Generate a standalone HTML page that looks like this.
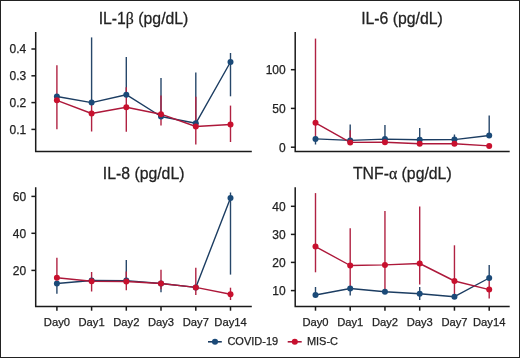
<!DOCTYPE html>
<html><head><meta charset="utf-8"><style>
html,body{margin:0;padding:0;background:#fff;}
body{width:520px;height:358px;overflow:hidden;}
svg{display:block;will-change:transform;font-family:"Liberation Sans", sans-serif;}
text{stroke:#222;stroke-width:0.25px;}
.g{font-family:"Liberation Serif",serif;}
</style></head><body>
<svg width="520" height="358" viewBox="0 0 520 358" fill="#222">
<rect x="0.5" y="0.5" width="519" height="357" fill="#fff" stroke="#222" stroke-width="1"/>
<g><text transform="translate(143.5,23.8) scale(1.0,1.08)" text-anchor="middle" font-size="15.8" class="t">IL-1<tspan class="g">β</tspan> (pg/dL)</text>
<path d="M35.7 32.1V151.5H251.8" fill="none" stroke="#1a1a1a" stroke-width="1.5"/>
<path d="M31.400000000000002 49H35.7" stroke="#1a1a1a" stroke-width="1.5"/>
<text x="26.200000000000003" y="53.4" text-anchor="end" font-size="12">0.4</text>
<path d="M31.400000000000002 75.8H35.7" stroke="#1a1a1a" stroke-width="1.5"/>
<text x="26.200000000000003" y="80.2" text-anchor="end" font-size="12">0.3</text>
<path d="M31.400000000000002 102.6H35.7" stroke="#1a1a1a" stroke-width="1.5"/>
<text x="26.200000000000003" y="107.0" text-anchor="end" font-size="12">0.2</text>
<path d="M31.400000000000002 129.4H35.7" stroke="#1a1a1a" stroke-width="1.5"/>
<text x="26.200000000000003" y="133.8" text-anchor="end" font-size="12">0.1</text>
<path d="M91.6 37.4V102.6" stroke="#27476a" stroke-width="1.4"/>
<path d="M126.3 57.0V94.7" stroke="#27476a" stroke-width="1.4"/>
<path d="M161.0 78.1V116.5" stroke="#27476a" stroke-width="1.4"/>
<path d="M195.8 72.6V123.3" stroke="#27476a" stroke-width="1.4"/>
<path d="M230.5 53.0V96.3" stroke="#27476a" stroke-width="1.4"/>
<path d="M56.9 65.2V129.2" stroke="#b02242" stroke-width="1.4"/>
<path d="M91.6 101.0V131.5" stroke="#b02242" stroke-width="1.4"/>
<path d="M126.3 87.3V131.7" stroke="#b02242" stroke-width="1.4"/>
<path d="M161.0 95.4V125.4" stroke="#b02242" stroke-width="1.4"/>
<path d="M195.8 96.7V144.4" stroke="#b02242" stroke-width="1.4"/>
<path d="M230.5 105.6V142.0" stroke="#b02242" stroke-width="1.4"/>
<polyline points="56.9,96.5 91.6,102.6 126.3,94.7 161.0,116.5 195.8,123.3 230.5,62.0" fill="none" stroke="#1c3d62" stroke-width="1.4" stroke-linejoin="round"/>
<polyline points="56.9,100.3 91.6,113.5 126.3,107.3 161.0,114.2 195.8,126.5 230.5,124.5" fill="none" stroke="#ad183a" stroke-width="1.4" stroke-linejoin="round"/>
<circle cx="56.9" cy="96.5" r="3.0" fill="#1b4a78"/>
<circle cx="91.6" cy="102.6" r="3.0" fill="#1b4a78"/>
<circle cx="126.3" cy="94.7" r="3.0" fill="#1b4a78"/>
<circle cx="161.0" cy="116.5" r="3.0" fill="#1b4a78"/>
<circle cx="195.8" cy="123.3" r="3.0" fill="#1b4a78"/>
<circle cx="230.5" cy="62.0" r="3.0" fill="#1b4a78"/>
<circle cx="56.9" cy="100.3" r="3.0" fill="#c8102e"/>
<circle cx="91.6" cy="113.5" r="3.0" fill="#c8102e"/>
<circle cx="126.3" cy="107.3" r="3.0" fill="#c8102e"/>
<circle cx="161.0" cy="114.2" r="3.0" fill="#c8102e"/>
<circle cx="195.8" cy="126.5" r="3.0" fill="#c8102e"/>
<circle cx="230.5" cy="124.5" r="3.0" fill="#c8102e"/></g>
<g><text transform="translate(402,23.8) scale(1.0,1.08)" text-anchor="middle" font-size="15.8" class="t">IL-6 (pg/dL)</text>
<path d="M295.2 32.1V151.5H509.7" fill="none" stroke="#1a1a1a" stroke-width="1.5"/>
<path d="M290.9 69.7H295.2" stroke="#1a1a1a" stroke-width="1.5"/>
<text x="285.7" y="74.10000000000001" text-anchor="end" font-size="12">100</text>
<path d="M290.9 108.4H295.2" stroke="#1a1a1a" stroke-width="1.5"/>
<text x="285.7" y="112.80000000000001" text-anchor="end" font-size="12">50</text>
<path d="M290.9 147.2H295.2" stroke="#1a1a1a" stroke-width="1.5"/>
<text x="285.7" y="151.6" text-anchor="end" font-size="12">0</text>
<path d="M315.5 138.9V144.5" stroke="#27476a" stroke-width="1.4"/>
<path d="M350.2 124.4V140.4" stroke="#27476a" stroke-width="1.4"/>
<path d="M384.95 125.0V139.1" stroke="#27476a" stroke-width="1.4"/>
<path d="M419.7 128.1V139.7" stroke="#27476a" stroke-width="1.4"/>
<path d="M454.45 134.5V139.6" stroke="#27476a" stroke-width="1.4"/>
<path d="M489.2 115.6V135.5" stroke="#27476a" stroke-width="1.4"/>
<path d="M315.5 38.6V139.0" stroke="#b02242" stroke-width="1.4"/>
<path d="M350.2 130.2V142.4" stroke="#b02242" stroke-width="1.4"/>
<polyline points="315.5,138.9 350.2,140.4 384.95,139.1 419.7,139.7 454.45,139.6 489.2,135.5" fill="none" stroke="#1c3d62" stroke-width="1.4" stroke-linejoin="round"/>
<polyline points="315.5,122.8 350.2,142.4 384.95,142.2 419.7,143.7 454.45,143.8 489.2,145.9" fill="none" stroke="#ad183a" stroke-width="1.4" stroke-linejoin="round"/>
<circle cx="315.5" cy="138.9" r="3.0" fill="#1b4a78"/>
<circle cx="350.2" cy="140.4" r="3.0" fill="#1b4a78"/>
<circle cx="384.95" cy="139.1" r="3.0" fill="#1b4a78"/>
<circle cx="419.7" cy="139.7" r="3.0" fill="#1b4a78"/>
<circle cx="454.45" cy="139.6" r="3.0" fill="#1b4a78"/>
<circle cx="489.2" cy="135.5" r="3.0" fill="#1b4a78"/>
<circle cx="315.5" cy="122.8" r="3.0" fill="#c8102e"/>
<circle cx="350.2" cy="142.4" r="3.0" fill="#c8102e"/>
<circle cx="384.95" cy="142.2" r="3.0" fill="#c8102e"/>
<circle cx="419.7" cy="143.7" r="3.0" fill="#c8102e"/>
<circle cx="454.45" cy="143.8" r="3.0" fill="#c8102e"/>
<circle cx="489.2" cy="145.9" r="3.0" fill="#c8102e"/></g>
<g><text transform="translate(143.6,179.2) scale(1.0,1.08)" text-anchor="middle" font-size="15.8" class="t">IL-8 (pg/dL)</text>
<path d="M35.7 187.2V306.4H251.8" fill="none" stroke="#1a1a1a" stroke-width="1.5"/>
<path d="M31.400000000000002 196.4H35.7" stroke="#1a1a1a" stroke-width="1.5"/>
<text x="26.200000000000003" y="200.8" text-anchor="end" font-size="12">60</text>
<path d="M31.400000000000002 233.3H35.7" stroke="#1a1a1a" stroke-width="1.5"/>
<text x="26.200000000000003" y="237.70000000000002" text-anchor="end" font-size="12">40</text>
<path d="M31.400000000000002 270.4H35.7" stroke="#1a1a1a" stroke-width="1.5"/>
<text x="26.200000000000003" y="274.79999999999995" text-anchor="end" font-size="12">20</text>
<path d="M56.9 306.4V310.7" stroke="#1a1a1a" stroke-width="1.5"/>
<text x="56.9" y="326.2" text-anchor="middle" font-size="11.2">Day0</text>
<path d="M91.6 306.4V310.7" stroke="#1a1a1a" stroke-width="1.5"/>
<text x="91.6" y="326.2" text-anchor="middle" font-size="11.2">Day1</text>
<path d="M126.3 306.4V310.7" stroke="#1a1a1a" stroke-width="1.5"/>
<text x="126.3" y="326.2" text-anchor="middle" font-size="11.2">Day2</text>
<path d="M161.0 306.4V310.7" stroke="#1a1a1a" stroke-width="1.5"/>
<text x="161.0" y="326.2" text-anchor="middle" font-size="11.2">Day3</text>
<path d="M195.8 306.4V310.7" stroke="#1a1a1a" stroke-width="1.5"/>
<text x="195.8" y="326.2" text-anchor="middle" font-size="11.2">Day7</text>
<path d="M230.5 306.4V310.7" stroke="#1a1a1a" stroke-width="1.5"/>
<text x="230.5" y="326.2" text-anchor="middle" font-size="11.2">Day14</text>
<path d="M56.9 283.5V293.8" stroke="#27476a" stroke-width="1.4"/>
<path d="M126.3 260.0V280.6" stroke="#27476a" stroke-width="1.4"/>
<path d="M161.0 283.5V292.2" stroke="#27476a" stroke-width="1.4"/>
<path d="M230.5 192.5V274.6" stroke="#27476a" stroke-width="1.4"/>
<path d="M56.9 257.7V277.7" stroke="#b02242" stroke-width="1.4"/>
<path d="M91.6 272.0V291.5" stroke="#b02242" stroke-width="1.4"/>
<path d="M126.3 271.5V290.2" stroke="#b02242" stroke-width="1.4"/>
<path d="M161.0 269.7V289.2" stroke="#b02242" stroke-width="1.4"/>
<path d="M195.8 267.7V294.9" stroke="#b02242" stroke-width="1.4"/>
<path d="M230.5 287.7V300.0" stroke="#b02242" stroke-width="1.4"/>
<polyline points="56.9,283.5 91.6,280.5 126.3,280.6 161.0,283.5 195.8,287.4 230.5,198.1" fill="none" stroke="#1c3d62" stroke-width="1.4" stroke-linejoin="round"/>
<polyline points="56.9,277.7 91.6,281.2 126.3,281.5 161.0,283.5 195.8,287.4 230.5,294.3" fill="none" stroke="#ad183a" stroke-width="1.4" stroke-linejoin="round"/>
<circle cx="56.9" cy="283.5" r="3.0" fill="#1b4a78"/>
<circle cx="91.6" cy="280.5" r="3.0" fill="#1b4a78"/>
<circle cx="126.3" cy="280.6" r="3.0" fill="#1b4a78"/>
<circle cx="161.0" cy="283.5" r="3.0" fill="#1b4a78"/>
<circle cx="195.8" cy="287.4" r="3.0" fill="#1b4a78"/>
<circle cx="230.5" cy="198.1" r="3.0" fill="#1b4a78"/>
<circle cx="56.9" cy="277.7" r="3.0" fill="#c8102e"/>
<circle cx="91.6" cy="281.2" r="3.0" fill="#c8102e"/>
<circle cx="126.3" cy="281.5" r="3.0" fill="#c8102e"/>
<circle cx="161.0" cy="283.5" r="3.0" fill="#c8102e"/>
<circle cx="195.8" cy="287.4" r="3.0" fill="#c8102e"/>
<circle cx="230.5" cy="294.3" r="3.0" fill="#c8102e"/></g>
<g><text transform="translate(402.3,179.2) scale(1.0,1.08)" text-anchor="middle" font-size="15.8" class="t">TNF-<tspan class="g">α</tspan> (pg/dL)</text>
<path d="M295.2 187.2V306.4H509.7" fill="none" stroke="#1a1a1a" stroke-width="1.5"/>
<path d="M290.9 206.3H295.2" stroke="#1a1a1a" stroke-width="1.5"/>
<text x="285.7" y="210.70000000000002" text-anchor="end" font-size="12">40</text>
<path d="M290.9 234.4H295.2" stroke="#1a1a1a" stroke-width="1.5"/>
<text x="285.7" y="238.8" text-anchor="end" font-size="12">30</text>
<path d="M290.9 262.4H295.2" stroke="#1a1a1a" stroke-width="1.5"/>
<text x="285.7" y="266.79999999999995" text-anchor="end" font-size="12">20</text>
<path d="M290.9 290.6H295.2" stroke="#1a1a1a" stroke-width="1.5"/>
<text x="285.7" y="295.0" text-anchor="end" font-size="12">10</text>
<path d="M315.5 306.4V310.7" stroke="#1a1a1a" stroke-width="1.5"/>
<text x="315.5" y="326.2" text-anchor="middle" font-size="11.2">Day0</text>
<path d="M350.2 306.4V310.7" stroke="#1a1a1a" stroke-width="1.5"/>
<text x="350.2" y="326.2" text-anchor="middle" font-size="11.2">Day1</text>
<path d="M384.95 306.4V310.7" stroke="#1a1a1a" stroke-width="1.5"/>
<text x="384.95" y="326.2" text-anchor="middle" font-size="11.2">Day2</text>
<path d="M419.7 306.4V310.7" stroke="#1a1a1a" stroke-width="1.5"/>
<text x="419.7" y="326.2" text-anchor="middle" font-size="11.2">Day3</text>
<path d="M454.45 306.4V310.7" stroke="#1a1a1a" stroke-width="1.5"/>
<text x="454.45" y="326.2" text-anchor="middle" font-size="11.2">Day7</text>
<path d="M489.2 306.4V310.7" stroke="#1a1a1a" stroke-width="1.5"/>
<text x="489.2" y="326.2" text-anchor="middle" font-size="11.2">Day14</text>
<path d="M315.5 287.0V295.0" stroke="#27476a" stroke-width="1.4"/>
<path d="M350.2 288.5V295.5" stroke="#27476a" stroke-width="1.4"/>
<path d="M419.7 286.9V299.9" stroke="#27476a" stroke-width="1.4"/>
<path d="M489.2 265.0V278.0" stroke="#27476a" stroke-width="1.4"/>
<path d="M315.5 193.1V272.3" stroke="#b02242" stroke-width="1.4"/>
<path d="M350.2 228.3V286.4" stroke="#b02242" stroke-width="1.4"/>
<path d="M384.95 210.9V290.2" stroke="#b02242" stroke-width="1.4"/>
<path d="M419.7 206.5V284.6" stroke="#b02242" stroke-width="1.4"/>
<path d="M454.45 245.3V295.0" stroke="#b02242" stroke-width="1.4"/>
<path d="M489.2 280.0V298.6" stroke="#b02242" stroke-width="1.4"/>
<polyline points="315.5,295.0 350.2,288.5 384.95,291.8 419.7,293.8 454.45,296.7 489.2,278.0" fill="none" stroke="#1c3d62" stroke-width="1.4" stroke-linejoin="round"/>
<polyline points="315.5,246.6 350.2,265.5 384.95,264.9 419.7,263.5 454.45,281.0 489.2,289.6" fill="none" stroke="#ad183a" stroke-width="1.4" stroke-linejoin="round"/>
<circle cx="315.5" cy="295.0" r="3.0" fill="#1b4a78"/>
<circle cx="350.2" cy="288.5" r="3.0" fill="#1b4a78"/>
<circle cx="384.95" cy="291.8" r="3.0" fill="#1b4a78"/>
<circle cx="419.7" cy="293.8" r="3.0" fill="#1b4a78"/>
<circle cx="454.45" cy="296.7" r="3.0" fill="#1b4a78"/>
<circle cx="489.2" cy="278.0" r="3.0" fill="#1b4a78"/>
<circle cx="315.5" cy="246.6" r="3.0" fill="#c8102e"/>
<circle cx="350.2" cy="265.5" r="3.0" fill="#c8102e"/>
<circle cx="384.95" cy="264.9" r="3.0" fill="#c8102e"/>
<circle cx="419.7" cy="263.5" r="3.0" fill="#c8102e"/>
<circle cx="454.45" cy="281.0" r="3.0" fill="#c8102e"/>
<circle cx="489.2" cy="289.6" r="3.0" fill="#c8102e"/></g>
<g>
<path d="M208 341.8H221.8" stroke="#1c3d62" stroke-width="1.6"/><circle cx="215.0" cy="341.8" r="3.05" fill="#1b4a78"/>
<text x="227.4" y="345.1" font-size="11">COVID-19</text>
<path d="M287.7 341.8H301.7" stroke="#ad183a" stroke-width="1.6"/><circle cx="294.8" cy="341.8" r="3.05" fill="#c8102e"/>
<text x="306.9" y="345.1" font-size="11">MIS-C</text>
</g>
</svg>
</body></html>
